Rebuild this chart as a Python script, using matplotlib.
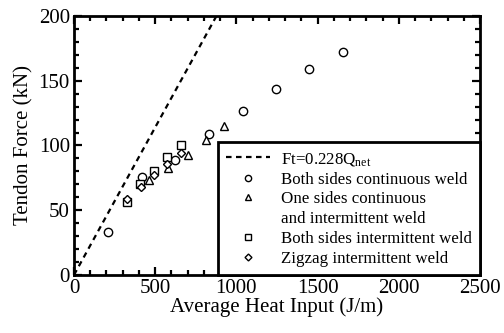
import matplotlib
matplotlib.use("Agg")
import matplotlib.pyplot as plt
import numpy as np
from matplotlib.lines import Line2D
from matplotlib.ticker import MultipleLocator

plt.rcParams['font.family'] = ['Liberation Serif', 'DejaVu Serif']
plt.rcParams['mathtext.fontset'] = 'custom'
plt.rcParams['mathtext.rm'] = 'Liberation Serif'
plt.rcParams['mathtext.it'] = 'Liberation Serif:italic'

# heat input (J/m) and tendon force (kN) per weld type
q_both_cont = [209, 419, 622, 831, 1041, 1244, 1447, 1656]
f_both_cont = [33, 76, 89, 109, 127, 144, 159, 172]

q_one_side = [462, 579, 702, 813, 924]
f_one_side = [73, 83, 93, 104, 115]

q_both_int = [326, 408, 493, 573, 659]
f_both_int = [56, 70, 80, 91, 100]

q_zigzag = [327, 415, 493, 573, 659]
f_zigzag = [59, 68, 77, 86, 94]

coef = 0.228
q_line = np.array([0, 2500])

fig = plt.figure(figsize=(5.04, 3.33), dpi=100)
ax = fig.add_axes([0.1468, 0.1742, 0.8056, 0.7778])

ax.plot(q_line, coef * q_line, color='black', linestyle=(0, (2.5, 2)), linewidth=1.6)
mk = dict(linestyle='none', mfc='white', mec='black', mew=1.0)
ax.plot(q_both_cont, f_both_cont, marker='o', markersize=6, **mk)
ax.plot(q_one_side, f_one_side, marker='^', markersize=6, **mk)
ax.plot(q_both_int, f_both_int, marker='s', markersize=6, **mk)
ax.plot(q_zigzag, f_zigzag, marker='D', markersize=4.5, **mk)

ax.set_xlim(0, 2500)
ax.set_ylim(0, 200)
ax.xaxis.set_major_locator(MultipleLocator(500))
ax.xaxis.set_minor_locator(MultipleLocator(100))
ax.yaxis.set_major_locator(MultipleLocator(50))
ax.yaxis.set_minor_locator(MultipleLocator(10))
ax.tick_params(which='both', direction='in', top=True, right=True, width=1.6,
               labelsize=15)
ax.tick_params(which='major', length=6, pad=3)
ax.tick_params(which='minor', length=3.5)
for s in ax.spines.values():
    s.set_linewidth(2)

ax.set_xlabel('Average Heat Input (J/m)', fontsize=15, labelpad=-1)
ax.set_ylabel('Tendon Force (kN)', fontsize=15, labelpad=4)

handles = [
    Line2D([], [], color='black', linestyle=(0, (2.5, 2)), linewidth=1.6),
    Line2D([], [], marker='o', markersize=4.5, **mk),
    Line2D([], [], marker='^', markersize=4.5, **mk),
    Line2D([], [], linestyle='none'),
    Line2D([], [], marker='s', markersize=4.5, **mk),
    Line2D([], [], marker='D', markersize=3.5, **mk),
]
labels = [
    'Ft=0.228Q$_{\\mathrm{net}}$',
    'Both sides continuous weld',
    'One sides continuous',
    'and intermittent weld',
    'Both sides intermittent weld',
    'Zigzag intermittent weld',
]
leg = ax.legend(handles, labels, loc='lower right', borderaxespad=0,
                fontsize=12.2, fancybox=False, framealpha=1, edgecolor='black',
                handlelength=2.6, handletextpad=0.6, labelspacing=0.22,
                borderpad=0.5)
leg.get_frame().set_linewidth(2)

fig.savefig('out.png', dpi=100)
